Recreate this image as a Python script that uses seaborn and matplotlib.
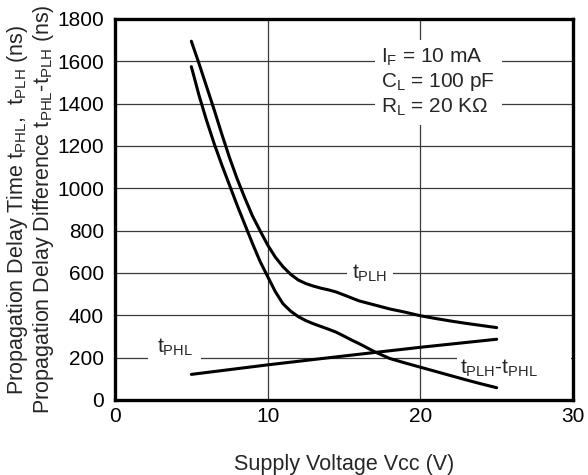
import matplotlib
matplotlib.use("Agg")
import matplotlib.pyplot as plt
import numpy as np
import pandas as pd
import seaborn as sns

# values
vcc_plh = [5, 5.5, 6, 6.5, 7, 7.5, 8, 8.5, 9, 9.5, 10, 10.5, 11, 11.5, 12,
           12.5, 13, 13.5, 14, 14.5, 15, 15.5, 16, 17, 18, 19, 20, 21, 22,
           23, 24, 25]
t_plh = [1695, 1590, 1480, 1370, 1255, 1145, 1045, 955, 870, 800, 732, 675,
         630, 594, 567, 550, 538, 528, 520, 510, 496, 482, 468, 449, 430,
         415, 398, 385, 373, 362, 352, 342]

vcc_diff = [5, 5.5, 6, 6.5, 7, 7.5, 8, 8.5, 9, 9.5, 10, 10.5, 11, 11.5, 12,
            12.5, 13, 13.5, 14, 14.5, 15, 15.5, 16, 17, 18, 19, 20, 21, 22,
            23, 24, 25]
t_diff = [1575, 1440, 1320, 1210, 1110, 1015, 920, 830, 740, 655, 583, 512,
          455, 420, 394, 375, 360, 347, 334, 320, 302, 283, 266, 228, 196,
          175, 155, 135, 115, 95, 76, 58]

vcc_phl = [5, 10, 15, 20, 25]
t_phl = [121, 166, 208, 249, 287]

x_ticks = [0, 10, 20, 30]
y_ticks = list(range(0, 2000, 200))

sns.set_style("white")
plt.rcParams["font.family"] = ["Liberation Sans", "DejaVu Sans"]
plt.rcParams["mathtext.fontset"] = "custom"
plt.rcParams["mathtext.rm"] = "Liberation Sans"
plt.rcParams["mathtext.it"] = "Liberation Sans"
plt.rcParams["mathtext.bf"] = "Liberation Sans:bold"

df = pd.concat([
    pd.DataFrame({"vcc": vcc_plh, "ns": t_plh, "curve": "tPLH"}),
    pd.DataFrame({"vcc": vcc_diff, "ns": t_diff, "curve": "diff"}),
    pd.DataFrame({"vcc": vcc_phl, "ns": t_phl, "curve": "tPHL"}),
])

fig = plt.figure(figsize=(5.88, 4.75), dpi=100)
ax = fig.add_axes([0.1956, 0.1579, 0.7789, 0.8021])

sns.lineplot(data=df, x="vcc", y="ns", hue="curve", estimator=None,
             palette=["black", "black", "black"], linewidth=2.2,
             legend=False, ax=ax, zorder=4)

ax.set_xlim(0, 30)
ax.set_ylim(0, 1800)
ax.set_xticks(x_ticks)
ax.set_yticks(y_ticks)
ax.grid(True, color="#3a3a3a", linewidth=0.9)
ax.set_axisbelow(True)
ax.tick_params(axis="both", length=0, labelsize=15, colors="black")
ax.tick_params(axis="x", pad=5)
ax.tick_params(axis="y", pad=8)
for side in ax.spines.values():
    side.set_linewidth(2.4)
    side.set_color("black")
    side.set_zorder(6)

ax.set_xlabel("Supply Voltage Vcc (V)", fontsize=15.5, labelpad=20)
ax.set_ylabel("Propagation Delay Time t$_{\\mathregular{PHL}}$,  t$_{\\mathregular{PLH}}$ (ns)\n"
              "Propagation Delay Difference t$_{\\mathregular{PHL}}$-t$_{\\mathregular{PLH}}$ (ns)",
              fontsize=15.5, labelpad=1, linespacing=1.05)

box = dict(facecolor="white", edgecolor="none", pad=4)
ax.text(16.7, 600, "t$_{\\mathregular{PLH}}$", fontsize=15, ha="center",
        va="center", bbox=box, zorder=3)
ax.text(3.9, 200, "t$_{\\mathregular{PHL}}$", fontsize=15, ha="center",
        va="bottom", bbox=dict(facecolor="white", edgecolor="none", pad=6),
        zorder=3)
ax.text(22.6, 200, "t$_{\\mathregular{PLH}}$-t$_{\\mathregular{PHL}}$      ",
        fontsize=15, ha="left", va="top",
        bbox=dict(facecolor="white", edgecolor="none", pad=2), zorder=3)
ax.text(17.45, 1500,
        "I$_{\\mathregular{F}}$ = 10 mA\nC$_{\\mathregular{L}}$ = 100 pF\n"
        "R$_{\\mathregular{L}}$ = 20 K\u03a9",
        fontsize=15, ha="left", va="center", linespacing=1.2,
        bbox=dict(facecolor="white", edgecolor="none", pad=5), zorder=3)

fig.savefig("out.png", dpi=100)
